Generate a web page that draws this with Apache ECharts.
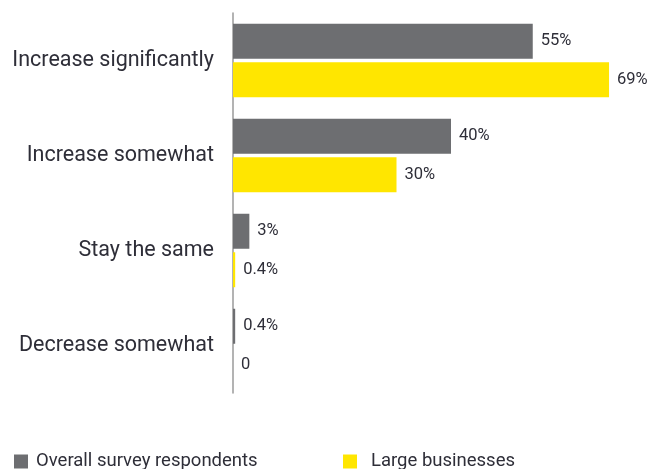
<!DOCTYPE html>
<html><head><meta charset="utf-8">
<script src="https://cdn.jsdelivr.net/npm/echarts@6/dist/echarts.min.js"></script>
<style>html,body{margin:0;padding:0;background:#fff}#c{width:652px;height:469px}</style>
</head><body><div id="c"></div>
<script>
const categories = ['Increase significantly','Increase somewhat','Stay the same','Decrease somewhat'];
const overallValues = [55, 40, 3, 0.4];
const largeValues = [69, 30, 0.4, 0];
const overallLabels = ['55%','40%','3%','0.4%'];
const largeLabels = ['69%','30%','0.4%','0'];
const seriesNames = ['Overall survey respondents','Large businesses'];

const FONT = 'Roboto';
const chart = echarts.init(document.getElementById('c'));
chart.setOption({
  animation: false,
  textStyle: {fontFamily: FONT},
  legend: [
    {data:[seriesNames[0]], left: 9, top: 447, itemWidth: 14, itemHeight: 14, icon: 'rect',
     textStyle:{fontFamily: FONT, fontSize: 18.5, color:'#2e2e38', padding:[0,0,0,3]}},
    {data:[seriesNames[1]], left: 338, top: 447, itemWidth: 14, itemHeight: 14, icon: 'rect',
     textStyle:{fontFamily: FONT, fontSize: 18.5, color:'#2e2e38', padding:[0,0,0,9]}}
  ],
  grid: {left: 233, top: 13, width: 381.5, height: 380, containLabel: false},
  xAxis: {type:'value', min:0, max:70, show:false},
  yAxis: {type:'category', data: categories, inverse: true,
    axisLine:{show:true, lineStyle:{color:'#9a9a9a', width:1.5}},
    axisTick:{show:false},
    axisLabel:{fontFamily: FONT, fontSize: 21.5, color:'#2e2e38', margin: 19}
  },
  series: [
    {name: seriesNames[0], type:'bar', data: overallValues, barWidth: 35, barGap: '10%',
     itemStyle:{color:'#6d6e71'},
     label:{show:true, position:'right', distance: 8, fontFamily: FONT, fontSize: 16.5, color:'#2e2e38',
       formatter: p => overallLabels[p.dataIndex]}},
    {name: seriesNames[1], type:'bar', data: largeValues, barWidth: 35,
     itemStyle:{color:'#ffe600'},
     label:{show:true, position:'right', distance: 8, fontFamily: FONT, fontSize: 16.5, color:'#2e2e38',
       formatter: p => largeLabels[p.dataIndex]}}
  ]
});
</script></body></html>
